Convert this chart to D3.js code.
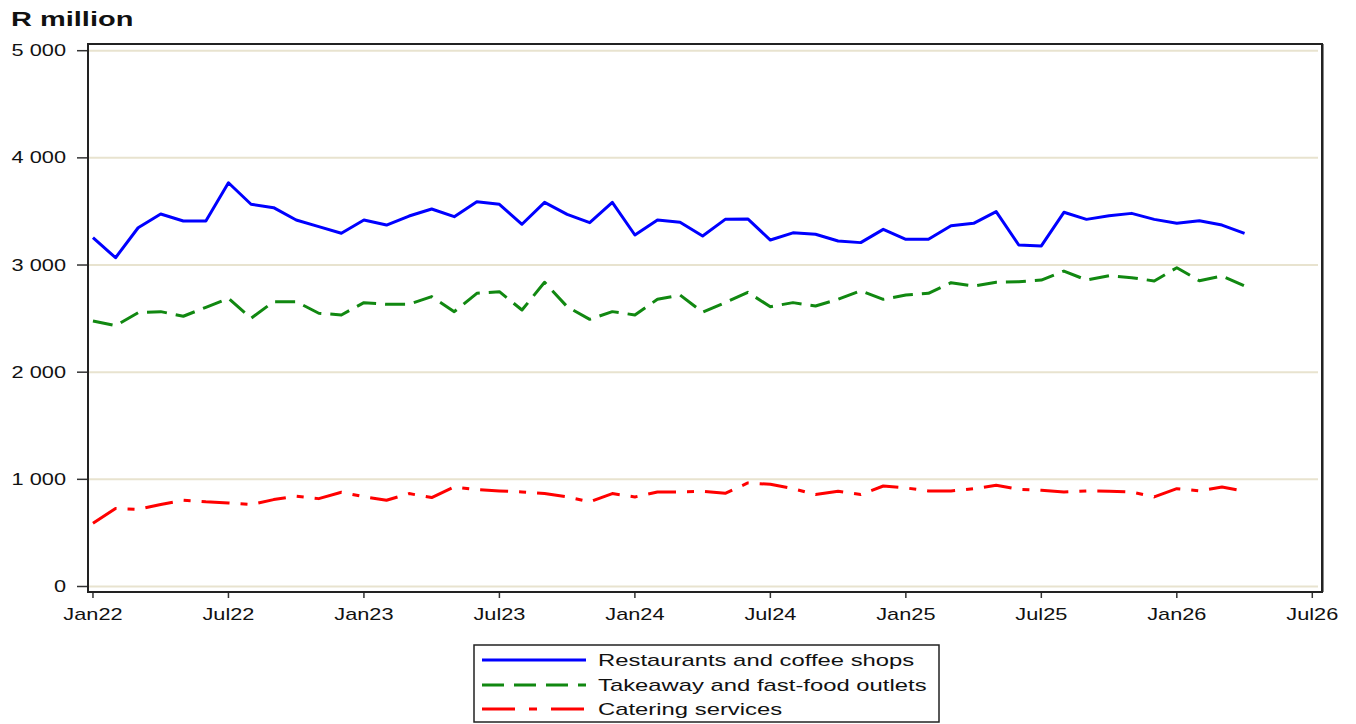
<!DOCTYPE html>
<html>
<head>
<meta charset="utf-8">
<script src="https://cdn.jsdelivr.net/npm/d3@7"></script>
<style>
  html, body { margin: 0; padding: 0; background: #fff; }
  svg { display: block; }
  text { font-family: "Liberation Sans", Arial, sans-serif; fill: #111; }
</style>
</head>
<body>
<svg id="chart" width="1356" height="724"></svg>
<script>
// ---- Data (R million), monthly Jan 2022 .. Apr 2026 ----
const tickLabels = ["Jan22","Jul22","Jan23","Jul23","Jan24","Jul24","Jan25","Jul25","Jan26","Jul26"];
const yTicks = [0, 1000, 2000, 3000, 4000, 5000];

const restaurants = [3255,3068,3348,3476,3411,3411,3768,3567,3535,3420,3358,3296,
                     3420,3373,3457,3523,3451,3591,3567,3380,3585,3473,3395,3585,
                     3280,3420,3399,3271,3426,3430,3233,3300,3287,3224,3209,3333,
                     3240,3240,3367,3389,3498,3187,3178,3492,3426,3460,3482,3426,
                     3389,3414,3373,3296];
const takeaway    = [2478,2434,2555,2565,2522,2605,2689,2503,2658,2658,2550,2534,
                     2649,2634,2634,2705,2565,2736,2751,2580,2839,2611,2493,2565,
                     2534,2680,2720,2559,2649,2745,2611,2649,2618,2680,2760,2680,
                     2720,2736,2835,2804,2839,2844,2860,2944,2860,2900,2882,2851,
                     2975,2853,2898,2804];
const catering    = [590,728,720,765,805,790,780,765,811,842,820,880,
                     838,805,867,830,929,904,892,882,867,836,790,867,
                     836,882,882,889,870,966,954,913,858,889,858,938,
                     920,892,892,913,944,907,898,882,892,889,882,836,
                     913,892,929,889];

const seriesNames = ["Restaurants and coffee shops","Takeaway and fast-food outlets","Catering services"];
const seriesColors = ["#0000ff","#118811","#ff0000"];
const seriesDash = [null, "20,9", "28,11,7,11"];
const seriesData = [restaurants, takeaway, catering];

// ---- Layout ----
const svg = d3.select("#chart");
const frame = {left: 88, top: 44, right: 1322, bottom: 592};

const x = d3.scaleLinear().domain([-0.22, 54.43]).range([frame.left, frame.right]);
const y = d3.scaleLinear().domain([0, 5000]).range([586.5, 50.7]);

function stretchedText(g, tx, ty, str, anchor, size, weight, sx) {
  return g.append("text")
    .attr("transform", `translate(${tx},${ty}) scale(${sx || 1.36},1)`)
    .attr("text-anchor", anchor)
    .style("font-size", size + "px")
    .style("font-weight", weight || "normal")
    .text(str);
}

// gridlines
svg.append("g").selectAll("line").data(yTicks).join("line")
  .attr("x1", frame.left + 1).attr("x2", frame.right - 4)
  .attr("y1", d => y(d)).attr("y2", d => y(d))
  .attr("stroke", "#e8e3cf").attr("stroke-width", 2);

// y axis ticks and labels
const yAxisG = svg.append("g");
yAxisG.selectAll("line").data(yTicks).join("line")
  .attr("x1", 77).attr("x2", frame.left)
  .attr("y1", d => y(d)).attr("y2", d => y(d))
  .attr("stroke", "#333").attr("stroke-width", 1.5);
yTicks.forEach(t => {
  stretchedText(yAxisG, 66, y(t) + 5.5, d3.format(",")(t).replace(/,/g, " "), "end", 16);
});

// x axis ticks and labels
const xAxisG = svg.append("g");
tickLabels.forEach((lab, k) => {
  const xp = x(k * 6);
  xAxisG.append("line").attr("x1", xp).attr("x2", xp)
    .attr("y1", frame.bottom).attr("y2", frame.bottom + 6)
    .attr("stroke", "#333").attr("stroke-width", 1.5);
  stretchedText(xAxisG, xp, 620, lab, "middle", 16);
});

// frame
svg.append("rect")
  .attr("x", frame.left).attr("y", frame.top)
  .attr("width", frame.right - frame.left).attr("height", frame.bottom - frame.top)
  .attr("fill", "none").attr("stroke", "#222").attr("stroke-width", 2);
svg.append("line").attr("x1", frame.right + 1.5).attr("x2", frame.right + 1.5)
  .attr("y1", frame.top).attr("y2", frame.bottom)
  .attr("stroke", "#888").attr("stroke-width", 1);

// title
stretchedText(svg, 11, 26, "R million", "start", 20, "bold", 1.45);

// lines
const line = d3.line().x((d, i) => x(i)).y(d => y(d)).curve(d3.curveLinear);
seriesData.forEach((arr, s) => {
  svg.append("path")
    .datum(arr)
    .attr("d", line)
    .attr("fill", "none")
    .attr("stroke", seriesColors[s])
    .attr("stroke-width", 3)
    .attr("stroke-linejoin", "round")
    .attr("stroke-dasharray", seriesDash[s]);
});

// legend
const lg = svg.append("g");
lg.append("rect").attr("x", 474).attr("y", 645).attr("width", 465).attr("height", 77)
  .attr("fill", "#fff").attr("stroke", "#222").attr("stroke-width", 1.5);
const rowsY = [660, 685, 709];
seriesNames.forEach((name, s) => {
  lg.append("line").attr("x1", 482).attr("x2", 586)
    .attr("y1", rowsY[s]).attr("y2", rowsY[s])
    .attr("stroke", seriesColors[s]).attr("stroke-width", 3)
    .attr("stroke-dasharray", s === 1 ? "22,10" : (s === 2 ? "33,14,8,14" : null));
  stretchedText(lg, 598, rowsY[s] + 5.5, name, "start", 16, "normal", 1.49);
});
</script>
</body>
</html>
